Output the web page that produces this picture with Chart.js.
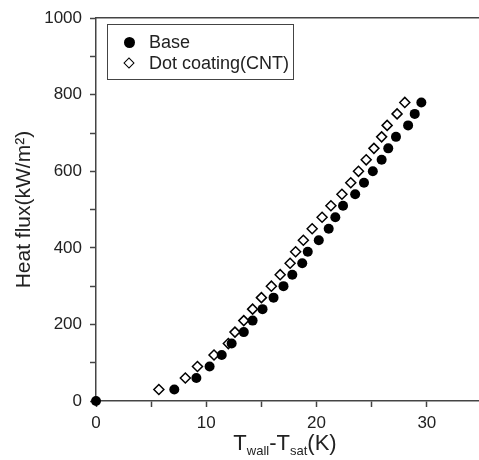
<!DOCTYPE html>
<html>
<head>
<meta charset="utf-8">
<script src="https://cdn.jsdelivr.net/npm/chart.js@4/dist/chart.umd.min.js"></script>
<style>
  html, body { margin: 0; padding: 0; background: #fff; overflow: hidden; }
  #wrap { position: relative; width: 479px; height: 460px; overflow: hidden; font-family: "Liberation Sans", Arial, sans-serif; color: #222; }
  #wrap canvas { position: absolute; left: 0; top: 0; }
  #legend { position: absolute; left: 107px; top: 24px; width: 185px; height: 54px; border: 1.5px solid #444; }
  .row { position: absolute; left: 41px; font-size: 18px; line-height: 20px; }
  .dot { position: absolute; width: 11px; height: 11px; border-radius: 50%; background: #000; }
  .dia { position: absolute; width: 6px; height: 6px; border: 1.5px solid #000; background: #fff; transform: rotate(45deg); }
  #xtitle { position: absolute; left: 185px; width: 200px; top: 431px; text-align: center; font-size: 22px; line-height: 24px; }
  #xtitle sub { font-size: 13px; vertical-align: -5px; line-height: 0; }
</style>
</head>
<body>
<div id="wrap">
  <canvas id="chart" width="490" height="460"></canvas>
  <div id="legend">
    <div class="dot" style="left:16px; top:12px;"></div>
    <div class="row" style="top:7px;">Base</div>
    <div class="dia" style="left:17px; top:34px;"></div>
    <div class="row" style="top:28px;">Dot coating(CNT)</div>
  </div>
  <div id="xtitle">T<sub>wall</sub>-T<sub>sat</sub>(K)</div>
</div>
<script>
// wall superheat (K) and heat flux (kW/m2)
const baseDT = [0, 7.1, 9.1, 10.3, 11.4, 12.3, 13.4, 14.2, 15.1, 16.1, 17.0, 17.8, 18.7, 19.2, 20.2, 21.1, 21.7, 22.4, 23.5, 24.3, 25.1, 25.9, 26.5, 27.2, 28.3, 28.9, 29.5];
const baseQ = [0, 30, 60, 90, 120, 150, 180, 210, 240, 270, 300, 330, 360, 390, 420, 450, 480, 510, 540, 570, 600, 630, 660, 690, 720, 750, 780];
const cntDT = [5.7, 8.1, 9.2, 10.7, 12.0, 12.6, 13.4, 14.2, 15.0, 15.9, 16.7, 17.6, 18.1, 18.8, 19.6, 20.5, 21.3, 22.3, 23.1, 23.8, 24.5, 25.2, 25.9, 26.4, 27.3, 28.0];
const cntQ = [30, 60, 90, 120, 150, 180, 210, 240, 270, 300, 330, 360, 390, 420, 450, 480, 510, 540, 570, 600, 630, 660, 690, 720, 750, 780];

const xLabels = [0, 10, 20, 30];
const yLabels = [0, 200, 400, 600, 800, 1000];

const toPts = (xs, ys) => xs.map((x, i) => ({ x: x, y: ys[i] }));

const axisColor = '#444';
const tickFont = { family: '"Liberation Sans", Arial, sans-serif', size: 17 };

new Chart(document.getElementById('chart'), {
  type: 'scatter',
  data: {
    datasets: [
      {
        label: 'Base',
        data: toPts(baseDT, baseQ),
        pointStyle: 'circle',
        pointRadius: 5,
        backgroundColor: '#000',
        borderColor: '#000',
        borderWidth: 0,
        clip: false
      },
      {
        label: 'Dot coating(CNT)',
        data: toPts(cntDT, cntQ),
        pointStyle: 'rectRot',
        pointRadius: 5,
        backgroundColor: '#fff',
        borderColor: '#000',
        borderWidth: 1.5,
        clip: false
      }
    ]
  },
  options: {
    responsive: false,
    animation: false,
    layout: { padding: { top: 16, right: 8, left: 0, bottom: 0 } },
    plugins: { legend: { display: false }, tooltip: { enabled: false } },
    scales: {
      x: {
        type: 'linear',
        min: 0, max: 35,
        afterFit: s => { s.height = 59; },
        border: { display: true, color: axisColor, width: 1.5 },
        grid: { drawOnChartArea: false, drawTicks: true, tickLength: 6, color: axisColor, tickWidth: 1.5 },
        ticks: {
          stepSize: 5, padding: 6, color: '#222', font: tickFont, maxRotation: 0,
          callback: v => xLabels.includes(v) ? String(v) : ''
        }
      },
      x2: {
        type: 'linear',
        position: 'top',
        min: 0, max: 35,
        afterFit: s => { s.height = 0; },
        border: { display: true, color: axisColor, width: 1.5 },
        grid: { display: false, drawTicks: false },
        ticks: { display: false }
      },
      y: {
        type: 'linear',
        min: 0, max: 1000,
        afterFit: s => { s.width = 96; },
        border: { display: true, color: axisColor, width: 1.5 },
        grid: { drawOnChartArea: false, drawTicks: true, tickLength: 6, color: axisColor, tickWidth: 1.5 },
        ticks: {
          stepSize: 100, padding: 8, color: '#222', font: tickFont,
          callback: v => yLabels.includes(v) ? String(v) : ''
        },
        title: {
          display: true,
          text: 'Heat flux(kW/m²)',
          color: '#222',
          font: { family: '"Liberation Sans", Arial, sans-serif', size: 21 },
          padding: { top: 12, bottom: 0 }
        }
      }
    }
  }
});
</script>
</body>
</html>
